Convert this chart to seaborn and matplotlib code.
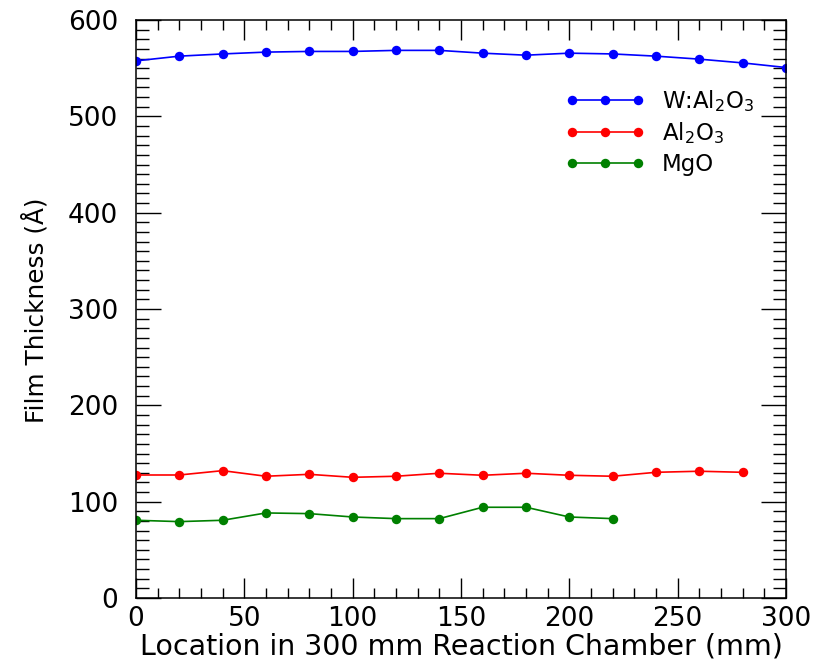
import matplotlib
matplotlib.use("Agg")
import matplotlib.pyplot as plt
from matplotlib.ticker import MultipleLocator
import seaborn as sns
import pandas as pd

# Thickness measurements along the chamber (mm -> Angstrom)
w_al2o3_x = [0, 20, 40, 60, 80, 100, 120, 140, 160, 180, 200, 220, 240, 260, 280, 300]
w_al2o3_y = [557.6, 562.5, 564.8, 566.7, 567.4, 567.4, 568.5, 568.5, 565.6, 563.5,
             565.6, 564.8, 562.5, 559.4, 555.5, 550.7]

al2o3_x = [0, 20, 40, 60, 80, 100, 120, 140, 160, 180, 200, 220, 240, 260, 280]
al2o3_y = [127.7, 127.7, 132.2, 126.4, 128.4, 125.3, 126.4, 129.5, 127.4, 129.5,
           127.4, 126.4, 130.5, 131.6, 130.5]

mgo_x = [0, 20, 40, 60, 80, 100, 120, 140, 160, 180, 200, 220]
mgo_y = [80.7, 79.3, 80.7, 88.3, 87.6, 84.1, 82.4, 82.4, 94.2, 94.2, 84.1, 82.4]

labels = ["W:Al$_2$O$_3$", "Al$_2$O$_3$", "MgO"]
colors = ["#0000ff", "#ff0000", "#008000"]

df = pd.concat([
    pd.DataFrame({"x": w_al2o3_x, "y": w_al2o3_y, "film": labels[0]}),
    pd.DataFrame({"x": al2o3_x, "y": al2o3_y, "film": labels[1]}),
    pd.DataFrame({"x": mgo_x, "y": mgo_y, "film": labels[2]}),
])

sns.set_style("ticks")
plt.rcParams["font.family"] = ["DejaVu Sans"]
plt.rcParams["mathtext.fontset"] = "dejavusans"
for key in ("text.color", "axes.labelcolor", "xtick.color", "ytick.color",
            "axes.edgecolor"):
    plt.rcParams[key] = "black"

fig = plt.figure(figsize=(8.14, 6.61), dpi=100)
ax = fig.add_axes([0.167, 0.0953, 0.7986, 0.8744])

for lab, col in zip(labels, colors):
    sub = df[df["film"] == lab]
    sns.lineplot(data=sub, x="x", y="y", ax=ax, color=col, marker="o",
                 markersize=6.8, markeredgewidth=0, linewidth=1.2, label=lab,
                 estimator=None, sort=False)

ax.set_xlim(0, 300)
ax.set_ylim(0, 600)
ax.xaxis.set_major_locator(MultipleLocator(50))
ax.xaxis.set_minor_locator(MultipleLocator(10))
ax.yaxis.set_major_locator(MultipleLocator(100))
ax.yaxis.set_minor_locator(MultipleLocator(10))
ax.tick_params(axis="both", which="both", direction="in", top=True, right=True,
               color="black", width=1.0, labelsize=19)
ax.tick_params(axis="x", which="major", length=14.5, pad=6)
ax.tick_params(axis="x", which="minor", length=7.5)
ax.tick_params(axis="y", which="major", length=18, pad=13)
ax.tick_params(axis="y", which="minor", length=9.5)
for s in ax.spines.values():
    s.set_color("black")
    s.set_linewidth(1.1)

ax.set_xlabel("Location in 300 mm Reaction Chamber (mm)", fontsize=20.5, labelpad=0)
ax.set_ylabel("Film Thickness (Å)", fontsize=17.8)
ax.yaxis.set_label_coords(-0.134, 0.498)

ax.legend(loc="upper left", bbox_to_anchor=(0.660, 0.883), frameon=False,
          numpoints=3, fontsize=16.5, handlelength=3.48, handletextpad=0.74,
          labelspacing=0.3, borderpad=0, borderaxespad=0)

fig.savefig("out.png", dpi=100)
